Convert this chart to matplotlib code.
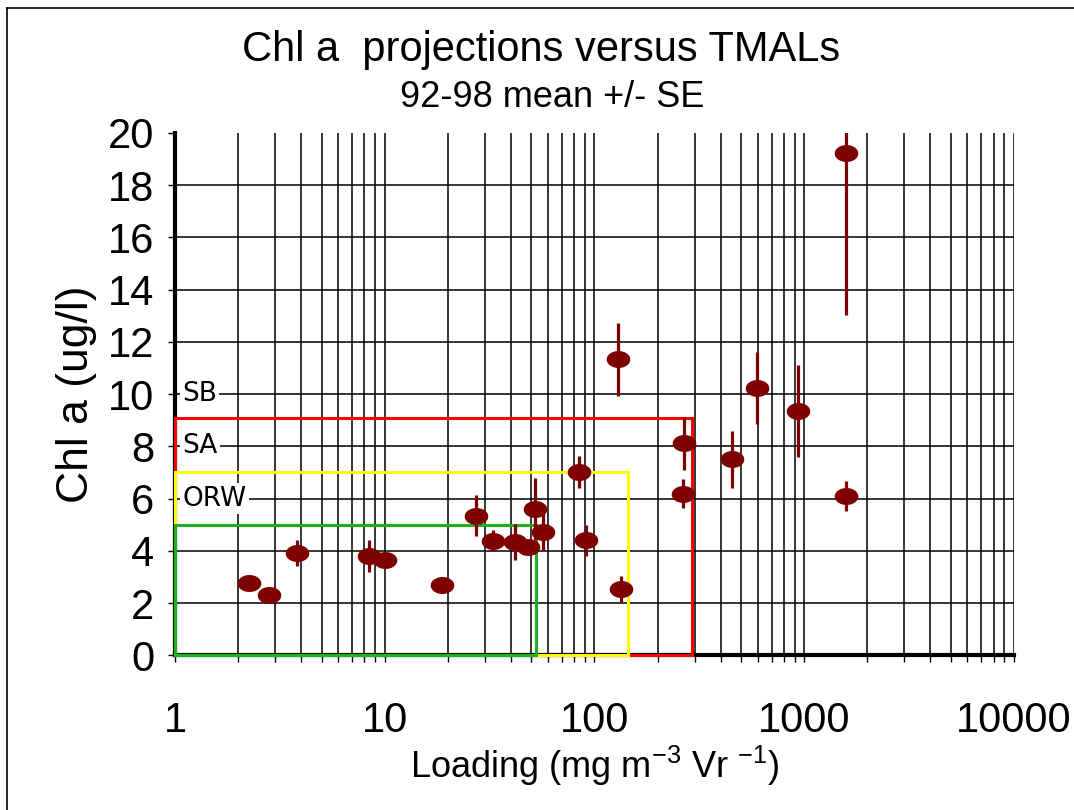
import matplotlib
matplotlib.use("Agg")
import matplotlib.pyplot as plt
import numpy as np
from matplotlib.path import Path
from matplotlib.patches import Rectangle
from matplotlib.lines import Line2D
from matplotlib.ticker import LogLocator, FixedLocator, NullFormatter

plt.rcParams['font.family'] = ['Liberation Sans', 'DejaVu Sans']

# loading (mg m-3 yr-1) and chl a mean +/- SE
loading = [2.25, 2.8, 3.8, 8.4, 10.0, 18.8, 27.3, 32.8, 41.9, 48.2, 52.2, 56.7,
           84.2, 91.3, 134, 129, 268, 263, 452, 599, 939, 1578, 1578]
chl_mean = [2.77, 2.3, 3.9, 3.8, 3.64, 2.68, 5.35, 4.38, 4.34, 4.15, 5.6, 4.72,
            7.02, 4.4, 2.53, 11.33, 8.11, 6.19, 7.5, 10.24, 9.35, 19.22, 6.1]
chl_se = [0.1, 0.1, 0.5, 0.6, 0.2, 0.1, 0.8, 0.4, 0.7, 0.1, 1.2, 0.7,
          0.6, 0.6, 0.5, 1.4, 1.0, 0.57, 1.1, 1.37, 1.77, 6.2, 0.57]

# class boxes: (name, max loading, max chl a, colour)
class_names = ['SB', 'SA', 'ORW']
class_label_y = [10, 8, 6]
box_loading = [292, 144, 52.7]
box_chl = [9.1, 7.0, 5.0]
box_colors = ['#ff0000', '#ffff00', '#1fb01f']

yticks = list(range(0, 21, 2))
xticks = [1, 10, 100, 1000, 10000]
xtick_labels = ['1', '10', '100', '1000', '10000']

fig = plt.figure(figsize=(10.74, 8.10), dpi=100)
ax = fig.add_axes([0.163, 0.191, 0.781, 0.645])

# ellipse marker
t = np.linspace(0, 2 * np.pi, 60)
ell = Path(np.column_stack([np.cos(t), 0.72 * np.sin(t)]), closed=True)

ax.errorbar(loading, chl_mean, yerr=chl_se, fmt='none', ecolor='#7f0000',
            elinewidth=2.3, capsize=0, zorder=4)
ax.plot(loading, chl_mean, linestyle='none', marker=ell, markersize=17,
        color='#7f0000', markeredgewidth=0, zorder=5)

for bx, by, bc in zip(box_loading, box_chl, box_colors):
    ax.add_patch(Rectangle((1, 0), bx - 1, by, fill=False, edgecolor=bc,
                           linewidth=2.2, zorder=3, clip_on=False))

for name, ly in zip(class_names, class_label_y):
    ax.text(1.085, ly, name, family='DejaVu Sans', fontsize=19, va='center', ha='left',
            bbox=dict(facecolor='white', edgecolor='none', pad=1.5), zorder=3)

ax.set_xscale('log')
ax.set_xlim(1, 10000)
ax.set_ylim(0, 20)
ax.xaxis.set_major_locator(FixedLocator(xticks))
ax.set_xticklabels(xtick_labels)
ax.xaxis.set_minor_locator(LogLocator(base=10, subs=np.arange(2, 10)))
ax.xaxis.set_minor_formatter(NullFormatter())
ax.set_yticks(yticks)

ax.grid(True, which='both', axis='x', color='black', linewidth=1.1)
ax.grid(True, which='major', axis='y', color='black', linewidth=1.1)
ax.yaxis.get_gridlines()[-1].set_visible(False)
ax.yaxis.get_gridlines()[0].set_visible(False)
ax.set_axisbelow(True)

ax.tick_params(axis='y', direction='out', length=5, width=1, labelsize=30, pad=10)
ax.tick_params(axis='x', which='both', direction='out', length=5, width=1,
               labelsize=30, pad=28)

for s in ['top', 'right']:
    ax.spines[s].set_visible(False)
ax.spines['left'].set_linewidth(3)
ax.spines['bottom'].set_linewidth(3)

ax.set_ylabel('Chl a (ug/l)', fontsize=32, labelpad=8)
ax.set_xlabel(r'Loading (mg m$^{\mathregular{-3}}$ Vr $^{\mathregular{-1}}$)',
              fontsize=26, labelpad=2)

fig.text(0.504, 0.938, 'Chl a  projections versus TMALs', ha='center', va='center', fontsize=30)
fig.text(0.514, 0.880, '92-98 mean +/- SE', ha='center', va='center', fontsize=26)

# frame lines on left and top
fig.add_artist(Line2D([0.0065, 0.0065], [0, 0.990], transform=fig.transFigure,
                      color='black', linewidth=1.2))
fig.add_artist(Line2D([0.0065, 1], [0.990, 0.990], transform=fig.transFigure,
                      color='black', linewidth=1.2))

fig.savefig('out.png', dpi=100)
